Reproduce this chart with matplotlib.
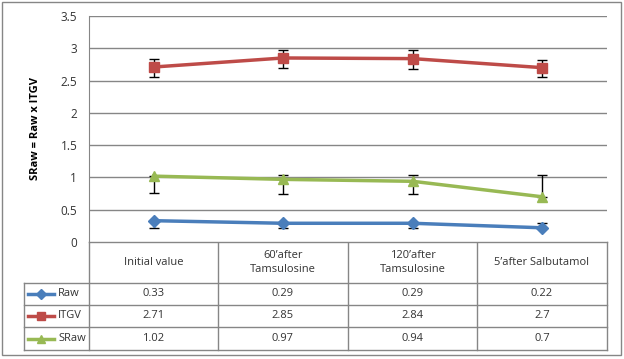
import matplotlib
matplotlib.use("Agg")
import matplotlib.pyplot as plt
from matplotlib.lines import Line2D
from matplotlib.patches import Rectangle

# data
categories = ["Initial value", "60\u2019after\nTamsulosine",
              "120\u2019after\nTamsulosine", "5\u2019after Salbutamol"]
series_names = ["Raw", "ITGV", "SRaw"]
raw = [0.33, 0.29, 0.29, 0.22]
itgv = [2.71, 2.85, 2.84, 2.70]
sraw = [1.02, 0.97, 0.94, 0.70]

# error bars (lower, upper) as drawn in the picture
raw_err = ([0.12, 0.08, 0.08, 0.0], [0.0, 0.0, 0.0, 0.08])
itgv_err = ([0.16, 0.16, 0.16, 0.15], [0.12, 0.12, 0.13, 0.12])
sraw_err = ([0.26, 0.22, 0.19, 0.0], [0.0, 0.06, 0.09, 0.33])

colors = ["#4A7EBB", "#BE4B48", "#98B954"]
markers = ["D", "s", "^"]
msizes = [6, 7, 7]

plt.rcParams["font.family"] = ["Open Sans", "DejaVu Sans"]

W, H = 624, 359
fig = plt.figure(figsize=(W / 100, H / 100), dpi=100)

# pixel layout helpers
left, right, top, bottom = 89, 607, 16, 242
ax = fig.add_axes([left / W, 1 - bottom / H, (right - left) / W, (bottom - top) / H])

grid_c = "#868686"
x = range(len(categories))
for vals, err, c, m, ms in zip([raw, itgv, sraw], [raw_err, itgv_err, sraw_err],
                               colors, markers, msizes):
    ax.errorbar(x, vals, yerr=[err[0], err[1]], fmt="none", ecolor="black",
                elinewidth=1, capsize=3.5, capthick=1, zorder=2)
    ax.plot(x, vals, color=c, lw=2.5, marker=m, ms=ms, zorder=3)

ax.set_xlim(-0.5, len(categories) - 0.5)
ax.set_ylim(0, 3.5)
ax.set_yticks([0, 0.5, 1, 1.5, 2, 2.5, 3, 3.5])
ax.set_yticklabels(["0", "0.5", "1", "1.5", "2", "2.5", "3", "3.5"])
ax.set_xticks([])
ax.tick_params(axis="y", length=0, pad=8.5, labelsize=8.5, colors="#333333")
ax.yaxis.grid(True, color=grid_c, lw=1)
ax.set_axisbelow(True)
for s in ["top", "right", "bottom"]:
    ax.spines[s].set_visible(False)
ax.spines["left"].set_color(grid_c)
ax.set_ylabel("SRaw = Raw x ITGV", fontsize=8, fontweight="bold", labelpad=14)

# overlay in pixel coords for border and data table
ov = fig.add_axes([0, 0, 1, 1], zorder=-1)
ov.set_xlim(0, W)
ov.set_ylim(H, 0)
ov.axis("off")
ov.add_patch(Rectangle((2, 2), 619, 353, fill=False, ec=grid_c, lw=1))

col_x = [89, 218, 348, 477, 607]
row_y = [242, 283, 305, 327, 350]
tl = 24

def hline(x0, x1, y):
    ov.add_line(Line2D([x0, x1], [y, y], color=grid_c, lw=1))

def vline(xx, y0, y1):
    ov.add_line(Line2D([xx, xx], [y0, y1], color=grid_c, lw=1))

hline(col_x[0], col_x[-1], row_y[0])
for y in row_y[1:]:
    hline(tl, col_x[-1], y)
for xx in col_x:
    vline(xx, row_y[0], row_y[-1])
vline(tl, row_y[1], row_y[-1])

for i, cat in enumerate(categories):
    cx = (col_x[i] + col_x[i + 1]) / 2
    ov.text(cx, (row_y[0] + row_y[1]) / 2, cat, ha="center", va="center",
            fontsize=8, color="#333333", linespacing=1.5)

for r, (name, vals, c, m, ms) in enumerate(zip(series_names, [raw, itgv, sraw],
                                                colors, markers, msizes)):
    cy = (row_y[r + 1] + row_y[r + 2]) / 2
    ov.add_line(Line2D([28, 54], [cy, cy], color=c, lw=2.5))
    ov.plot([41], [cy], marker=m, color=c, ms=ms - 1)
    ov.text(58, cy, name, ha="left", va="center", fontsize=8, color="#333333")
    for i, v in enumerate(vals):
        cx = (col_x[i] + col_x[i + 1]) / 2
        ov.text(cx, cy, f"{v:g}", ha="center", va="center", fontsize=8,
                color="#333333")

fig.savefig("out.png", dpi=100)
